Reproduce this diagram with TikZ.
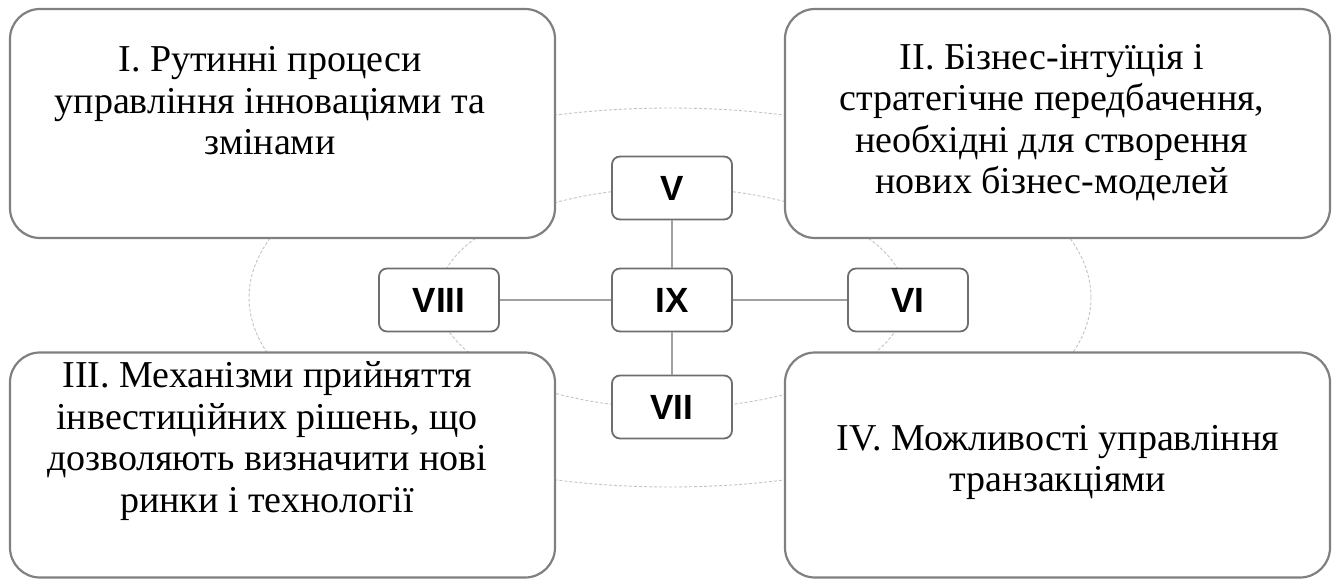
\documentclass[tikz,border=0pt]{standalone}
\usepackage{fontspec}
\setmainfont{Liberation Serif}
\newfontfamily\numfont{Liberation Sans}
\definecolor{boxgray}{RGB}{128,128,128}
\definecolor{numgray}{RGB}{110,110,110}
\definecolor{linkgray}{RGB}{160,160,160}
\definecolor{ringgray}{RGB}{195,195,195}

\begin{document}
\begin{tikzpicture}[x=1pt,y=-1pt,
        bigbox/.style={draw=boxgray,line width=2.2pt,rounded corners=30pt,fill=white,
            minimum width=545pt,inner sep=0pt},
        bigtext/.style={align=center,inner sep=0pt,font=\fontsize{38}{41.5}\selectfont},
        numbox/.style={draw=numgray,line width=1.8pt,rounded corners=8pt,fill=white,
            minimum width=120pt,minimum height=63pt,inner sep=0pt,
            font=\numfont\bfseries\fontsize{35}{40}\selectfont},
        link/.style={draw=linkgray,line width=2.2pt},
        ring/.style={draw=ringgray,line width=0.9pt,densely dashed}]
    \useasboundingbox (0,0) rectangle (1339,581);
    % faint rings behind everything
    \draw[ring] (670,297.5) ellipse[x radius=421pt,y radius=189.5pt];
    \draw[ring] (672,298) ellipse[x radius=234pt,y radius=110pt];
    % four big boxes
    \node[bigbox,minimum height=229pt] (I) at (282.5,123.5) {};
    \node[bigbox,minimum height=229pt] (II) at (1057.5,123.5) {};
    \node[bigbox,minimum height=225pt] (III) at (282.5,465) {};
    \node[bigbox,minimum height=225pt] (IV) at (1057.5,465) {};
    \node[bigtext] (tI) at (270,101) {I. Рутинні процеси\\управління інноваціями та\\змінами};
    \node[bigtext] (tII) at (1052,122.5) {II. Бізнес-інтуїція і\\стратегічне передбачення,\\необхідні для створення\\нових бізнес-моделей};
    \node[bigtext] (tIII) at (267,441) {III. Механізми прийняття\\інвестиційних рішень, що\\дозволяють визначити нові\\ринки і технології};
    \node[bigtext] (tIV) at (1058,462.5) {IV. Можливості управління\\транзакціями};
    % small boxes
    \node[numbox] (IX) at (672,300) {IX};
    \node[numbox] (V) at (672,188) {V};
    \node[numbox] (VII) at (672,407) {VII};
    \node[numbox] (VIII) at (439,300) {VIII};
    \node[numbox] (VI) at (908,300) {VI};
    \foreach \n in {V,VI,VII,VIII}
        \draw[link] (IX) -- (\n);
\end{tikzpicture}
\end{document}
